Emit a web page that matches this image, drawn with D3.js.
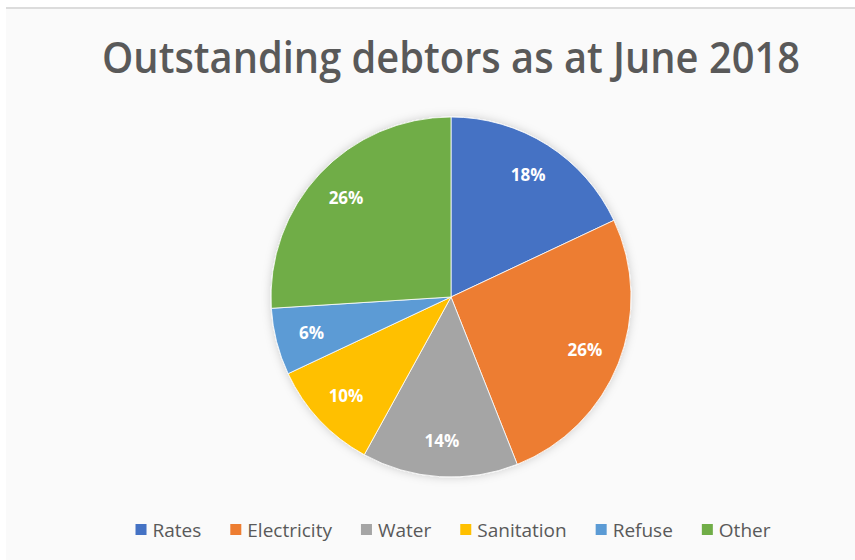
<!DOCTYPE html>
<html>
<head>
<meta charset="utf-8">
<script src="https://cdn.jsdelivr.net/npm/d3@7"></script>
<style>
  body { margin: 0; background: #fff; }
  svg { display: block; }
</style>
</head>
<body>
<svg></svg>
<script>
const categories = ["Rates", "Electricity", "Water", "Sanitation", "Refuse", "Other"];
const values = [18, 26, 14, 10, 6, 26];
const colors = ["#4472C4", "#ED7D31", "#A5A5A5", "#FFC000", "#5B9BD5", "#70AD47"];
const title = "Outstanding debtors as at June 2018";

const width = 855, height = 560;
const cx = 451, cy = 297, radius = 180;

const svg = d3.select("svg")
    .attr("width", width)
    .attr("height", height);

// chart area background
svg.append("rect")
    .attr("x", 6).attr("y", 8)
    .attr("width", width - 6).attr("height", height - 8)
    .attr("fill", "#fafafa");
svg.append("line")
    .attr("x1", 6).attr("x2", width)
    .attr("y1", 8).attr("y2", 8)
    .attr("stroke", "#dcdcdc").attr("stroke-width", 2);

const defs = svg.append("defs");
const shadow = defs.append("filter").attr("id", "shadow")
    .attr("x", "-20%").attr("y", "-20%").attr("width", "140%").attr("height", "140%");
shadow.append("feDropShadow")
    .attr("dx", 0).attr("dy", 0)
    .attr("stdDeviation", 5)
    .attr("flood-color", "#000")
    .attr("flood-opacity", 0.18);

svg.append("text")
    .attr("x", cx).attr("y", 73)
    .attr("text-anchor", "middle")
    .attr("font-family", "'Open Sans', sans-serif")
    .attr("font-weight", 600)
    .attr("font-size", 43)
    .attr("fill", "#595959")
    .attr("textLength", 698)
    .attr("lengthAdjust", "spacingAndGlyphs")
    .text(title);

const data = categories.map((c, i) => ({ name: c, value: values[i] }));

const color = d3.scaleOrdinal().domain(categories).range(colors);

const pie = d3.pie().sort(null).value(d => d.value);
const arc = d3.arc().innerRadius(0).outerRadius(radius);
const labelArc = d3.arc().innerRadius(radius * 0.8).outerRadius(radius * 0.8);

const g = svg.append("g").attr("transform", "translate(" + cx + "," + cy + ")");

const slices = pie(data);

g.append("g")
    .attr("filter", "url(#shadow)")
  .selectAll("path")
  .data(slices)
  .enter().append("path")
    .attr("d", arc)
    .attr("fill", d => color(d.data.name))
    .attr("stroke", "#fff")
    .attr("stroke-width", 0.8);

g.selectAll("text.label")
  .data(slices)
  .enter().append("text")
    .attr("class", "label")
    .attr("transform", d => "translate(" + labelArc.centroid(d) + ")")
    .attr("text-anchor", "middle")
    .attr("dy", "0.35em")
    .attr("font-family", "'Open Sans', sans-serif")
    .attr("font-weight", 700)
    .attr("font-size", 17)
    .attr("fill", "#fff")
    .text(d => d.data.value + "%");

// legend
const legend = svg.append("g").attr("transform", "translate(0,530)");
const items = legend.selectAll("g")
  .data(categories)
  .enter().append("g");

items.append("rect")
    .attr("x", 0).attr("y", -6)
    .attr("width", 11).attr("height", 11)
    .attr("fill", d => color(d));

items.append("text")
    .attr("x", 17).attr("dy", "0.35em")
    .attr("font-family", "'Open Sans', sans-serif")
    .attr("font-size", 19)
    .attr("fill", "#595959")
    .text(d => d);

let widths = [];
items.each(function() { widths.push(d3.select(this).select("text").node().getComputedTextLength() + 17); });
const gap = 29;
const total = d3.sum(widths) + gap * (widths.length - 1);
let xpos = 453 - total / 2;
items.attr("transform", (d, i) => {
    const t = "translate(" + xpos + ",0)";
    xpos += widths[i] + gap;
    return t;
});
</script>
</body>
</html>
